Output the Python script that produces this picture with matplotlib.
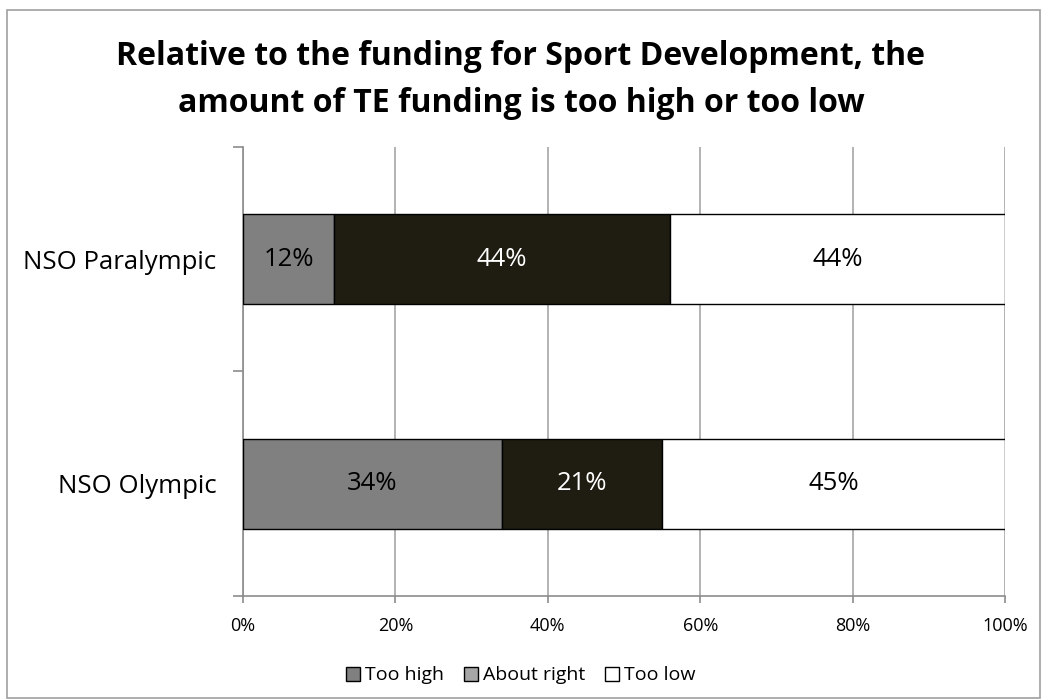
import matplotlib.pyplot as plt
from matplotlib.patches import Patch, Rectangle
import numpy as np

plt.rcParams["font.family"] = ["Open Sans", "DejaVu Sans"]

categories = ["NSO Olympic", "NSO Paralympic"]
too_high = [34, 12]
about_right = [21, 44]
too_low = [45, 44]

series_names = ["Too high", "About right", "Too low"]
bar_colors = ["#808080", "#1f1d12", "#ffffff"]
legend_colors = ["#808080", "#a6a6a6", "#ffffff"]
text_colors = ["black", "white", "black"]

fig = plt.figure(figsize=(10.42, 7.0), dpi=100)
ax = fig.add_axes([0.2332, 0.1486, 0.7313, 0.6414])

# light grey frame round the whole chart
fig.patches.append(Rectangle((0.007, 0.003), 0.991, 0.983, transform=fig.transFigure,
                             fill=False, edgecolor="#a0a0a0", linewidth=1.2))

y = np.arange(len(categories))
left = np.zeros(len(categories))
for vals, name, col, tcol in zip([too_high, about_right, too_low], series_names,
                                 bar_colors, text_colors):
    vals = np.array(vals, dtype=float)
    ax.barh(y, vals, left=left, height=0.4, color=col, edgecolor="black",
            linewidth=1.0, label=name, zorder=3)
    for yi, l, v in zip(y, left, vals):
        ax.text(l + v / 2, yi, f"{v:.0f}%", ha="center", va="center",
                color=tcol, fontsize=18.5, zorder=4)
    left += vals

ax.set_xlim(0, 100)
ax.set_ylim(-0.5, 1.5)
ax.set_xticks(np.arange(0, 101, 20))
ax.set_xticklabels([f"{t}%" for t in range(0, 101, 20)], fontsize=13)
ax.set_yticks(y)
ax.set_yticklabels(categories, fontsize=18.5)
ax.set_yticks([-0.5, 0.5, 1.5], minor=True)
ax.tick_params(axis="y", which="major", length=0, pad=19)
ax.tick_params(axis="y", which="minor", length=7, color="#8c8c8c", width=1.2)
ax.tick_params(axis="x", length=5, color="#8c8c8c", width=1.2, pad=10)

ax.grid(axis="x", color="#a6a6a6", linewidth=1.2, zorder=0)
for side in ["top", "right"]:
    ax.spines[side].set_visible(False)
for side in ["left", "bottom"]:
    ax.spines[side].set_color("#8c8c8c")
    ax.spines[side].set_linewidth(1.2)

fig.text(0.5, 0.886, "Relative to the funding for Sport Development, the\n"
         "amount of TE funding is too high or too low",
         ha="center", va="center", fontsize=23, fontweight="bold", linespacing=1.55)

handles = [Patch(facecolor=c, edgecolor="black", linewidth=1.0) for c in legend_colors]
fig.legend(handles, series_names, loc="center", bbox_to_anchor=(0.5, 0.035), ncol=3,
           frameon=False, fontsize=14, handlelength=0.7, handleheight=0.7,
           handletextpad=0.3, columnspacing=1.0)

fig.savefig("out.png", dpi=100)
